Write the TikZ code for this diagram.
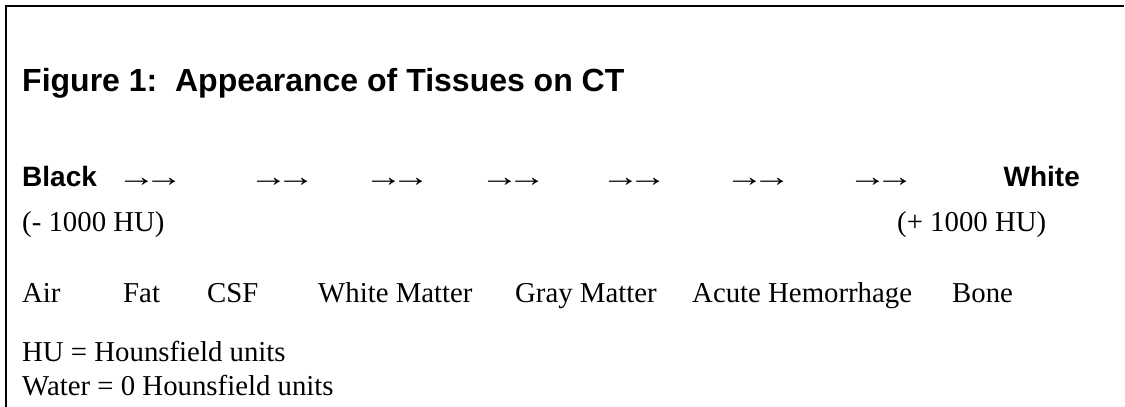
\documentclass[tikz,border=0pt]{standalone}
\usepackage{fontspec}
\setmainfont{Liberation Serif}
\newfontfamily\arialfont{Liberation Sans}
\newcommand{\arrpair}{\scalebox{1.35}[1]{→\kern-0.3em→}}
\tikzset{
  body/.style={anchor=base west, inner sep=0pt, font=\fontsize{28.8}{34}\selectfont},
  boldsans/.style={anchor=base west, inner sep=0pt, font=\arialfont\bfseries\fontsize{28}{33}\selectfont},
  titletext/.style={anchor=base west, inner sep=0pt, font=\arialfont\bfseries\fontsize{32}{38}\selectfont},
  arrtext/.style={body, xshift=-6pt},
  frame/.style={line width=2.5pt, line cap=rect}
}
\begin{document}
\begin{tikzpicture}[x=1pt,y=-1pt]
\useasboundingbox (0,0) rectangle (1125,407);
\draw[frame] (6,407) -- (6,6) -- (1123,6);
\node[titletext] (title) at (22,91) {Figure 1:\ \ Appearance of Tissues on CT};
\node[boldsans] (black) at (22,186) {Black};
\node[arrtext] (a1) at (123,186) {\arrpair};
\node[arrtext] (a2) at (255,186) {\arrpair};
\node[arrtext] (a3) at (370,186) {\arrpair};
\node[arrtext] (a4) at (486,186) {\arrpair};
\node[arrtext] (a5) at (607,186) {\arrpair};
\node[arrtext] (a6) at (731,186) {\arrpair};
\node[arrtext] (a7) at (854,186) {\arrpair};
\node[boldsans, anchor=base east] (white) at (1080,186) {White};
\node[body] (minus) at (22,231) {(- 1000 HU)};
\node[body] (plus) at (897,231) {(+ 1000 HU)};
\node[body] (air) at (22,302) {Air};
\node[body] (fat) at (123,302) {Fat};
\node[body] (csf) at (207,302) {CSF};
\node[body] (wm) at (318,302) {White Matter};
\node[body] (gm) at (515,302) {Gray Matter};
\node[body] (ah) at (692,302) {Acute Hemorrhage};
\node[body] (bone) at (952,302) {Bone};
\node[body] (hu) at (22,361) {HU = Hounsfield units};
\node[body] (water) at (22,395) {Water = 0 Hounsfield units};
\end{tikzpicture}
\end{document}
